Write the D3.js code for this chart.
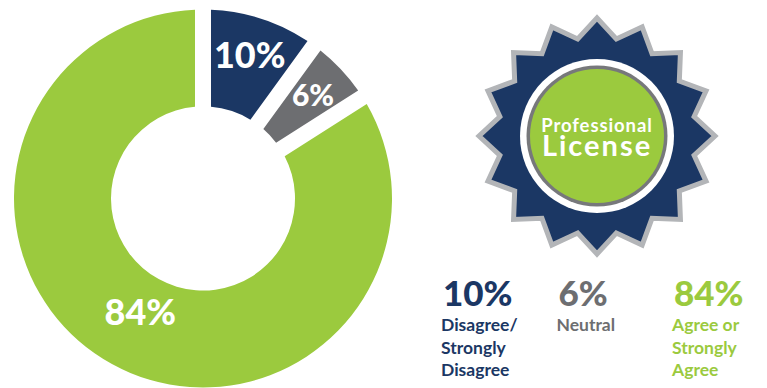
<!DOCTYPE html>
<meta charset="utf-8">
<script src="https://d3js.org/d3.v7.min.js"></script>
<style>
  body { margin: 0; background: #fff; }
  text { font-family: Lato, "Open Sans", sans-serif; font-weight: 700; }
</style>
<div id="chart"></div>
<script>
// data
var categories = ["Disagree/Strongly Disagree", "Neutral", "Agree or Strongly Agree"];
var values = [10, 6, 84];
var pctLabels = ["10%", "6%", "84%"];
var legendLines = [["Disagree/", "Strongly", "Disagree"], ["Neutral"], ["Agree or", "Strongly", "Agree"]];
var badgeText = ["Professional", "License"];

var navy = "#1b3764", grey = "#6d6e71", green = "#9bca3e";
var color = d3.scaleOrdinal().domain(categories).range([navy, grey, green]);

var width = 767, height = 388;
var svg = d3.select("#chart").append("svg")
    .attr("width", width)
    .attr("height", height);

// donut
var cx = 203, cy = 198.5, rOut = 189, rIn = 92;
var pie = d3.pie().sort(null).value(function(d) { return d.value; });
var arcs = pie(categories.map(function(c, i) { return {cat: c, value: values[i], label: pctLabels[i]}; }));

var arc = d3.arc()
    .innerRadius(rIn)
    .outerRadius(rOut)
    .padAngle(16 / rOut)
    .padRadius(rOut);

var donut = svg.append("g").attr("transform", "translate(" + cx + "," + cy + ")");

donut.selectAll("path")
  .data(arcs)
  .enter().append("path")
    .attr("d", arc)
    .attr("fill", function(d) { return color(d.data.cat); });

// labels sit on the slice centroid, big slice a bit closer in
donut.selectAll("text")
  .data(arcs)
  .enter().append("text")
    .attr("transform", function(d) {
      var r = d.data.value > 50 ? 130 : 151;
      var c = d3.arc().innerRadius(r).outerRadius(r).centroid(d);
      return "translate(" + c[0] + "," + c[1] + ")";
    })
    .attr("text-anchor", "middle")
    .attr("dy", "0.36em")
    .attr("fill", "#fff")
    .style("font-weight", 900)
    .style("font-size", function(d) { return d.data.value < 8 ? "30px" : "36px"; })
    .text(function(d) { return d.data.label; });

// badge
var bx = 597, by = 136;
var badge = svg.append("g").attr("transform", "translate(" + bx + "," + by + ")");

var nPoints = 16;
var starPts = d3.range(nPoints * 2).map(function(i) {
  return [i * Math.PI / nPoints, i % 2 ? 99 : 118];
});
badge.append("path")
    .attr("d", d3.lineRadial().curve(d3.curveLinearClosed)(starPts))
    .attr("fill", navy)
    .attr("stroke", "#b3b5b8")
    .attr("stroke-width", 5)
    .attr("stroke-linejoin", "miter");

badge.append("circle").attr("r", 77).attr("fill", "#fff");
badge.append("circle").attr("r", 70.5).attr("fill", "#77787b");
badge.append("circle").attr("r", 67).attr("fill", green);

badge.append("text")
    .attr("text-anchor", "middle")
    .attr("y", -4)
    .attr("fill", "#fff")
    .style("font-size", "18.5px")
    .style("letter-spacing", "0.9px")
    .text(badgeText[0]);

badge.append("text")
    .attr("text-anchor", "middle")
    .attr("y", 20)
    .attr("fill", "#fff")
    .style("font-size", "29px")
    .style("letter-spacing", "2px")
    .text(badgeText[1]);

// legend
var lx = d3.scalePoint().domain(categories).range([441, 672]);

var leg = svg.selectAll(".leg")
  .data(categories)
  .enter().append("g")
    .attr("class", "leg")
    .attr("transform", function(d) { return "translate(" + lx(d) + ",0)"; })
    .attr("fill", function(d) { return color(d); });

leg.append("text")
    .attr("x", 2)
    .attr("y", 305.5)
    .style("font-size", "35px")
    .style("font-weight", 900)
    .text(function(d, i) { return pctLabels[i]; });

leg.each(function(d, i) {
  d3.select(this).selectAll(".line")
    .data(legendLines[i])
    .enter().append("text")
      .attr("class", "line")
      .attr("y", function(t, j) { return 331 + j * 22.5; })
      .style("font-size", "17.5px")
      .text(function(t) { return t; });
});
</script>
